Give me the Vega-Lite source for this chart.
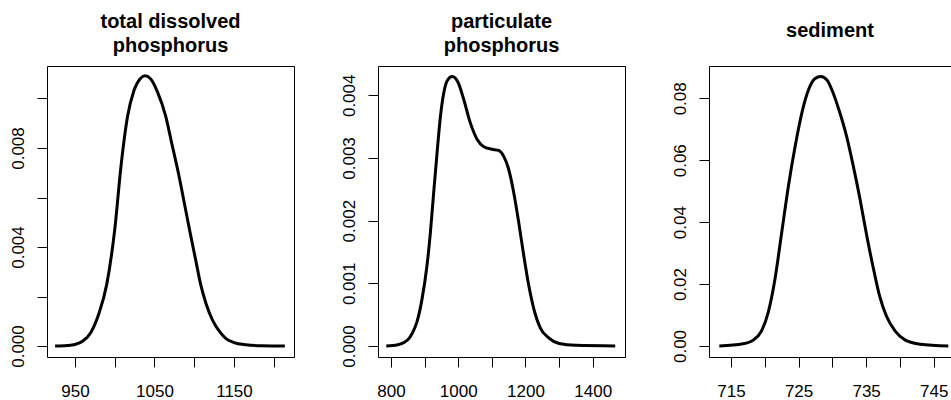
{
  "$schema": "https://vega.github.io/schema/vega-lite/v6.json",
  "padding": {"left": 8, "top": 11, "right": 0, "bottom": 0},
  "autosize": {"type": "pad"},
  "config": {
    "font": "Liberation Sans",
    "view": {"stroke": "black", "strokeWidth": 1},
    "axis": {"domain": false, "grid": false, "ticks": true, "tickColor": "black", "tickSize": 10, "tickWidth": 1, "labelFont": "Liberation Sans", "labelFontSize": 17, "labelColor": "black", "labelOverlap": false, "labelFlush": false, "labelBound": false},
    "axisX": {"labelBaseline": "alphabetic", "labelPadding": 29.7, "labelAngle": 0, "labelAlign": "center"},
    "axisY": {"labelAngle": 270, "labelAlign": "center", "labelBaseline": "alphabetic", "labelPadding": 14},
    "title": {"font": "Liberation Sans", "fontSize": 20, "fontWeight": "bold", "color": "black", "anchor": "middle", "frame": "group", "lineHeight": 24.3, "baseline": "bottom"},
    "line": {"color": "black", "strokeWidth": 3, "interpolate": "monotone"}
  },
  "datasets": {
    "tdp": [
      {"x": 925, "y": 0},
      {"x": 940, "y": 0.00002},
      {"x": 950, "y": 0.00006},
      {"x": 960, "y": 0.0002},
      {"x": 970, "y": 0.00055},
      {"x": 980, "y": 0.0013},
      {"x": 990, "y": 0.0025},
      {"x": 1000, "y": 0.0047},
      {"x": 1008, "y": 0.0073},
      {"x": 1016, "y": 0.00925},
      {"x": 1024, "y": 0.0103},
      {"x": 1032, "y": 0.0108},
      {"x": 1038, "y": 0.01092},
      {"x": 1045, "y": 0.0108},
      {"x": 1054, "y": 0.01025},
      {"x": 1064, "y": 0.0093},
      {"x": 1072, "y": 0.00815},
      {"x": 1080, "y": 0.007},
      {"x": 1088, "y": 0.0057},
      {"x": 1095, "y": 0.00455},
      {"x": 1102, "y": 0.00345},
      {"x": 1108, "y": 0.0025},
      {"x": 1115, "y": 0.0017},
      {"x": 1123, "y": 0.00105},
      {"x": 1132, "y": 0.00058},
      {"x": 1140, "y": 0.0003},
      {"x": 1150, "y": 0.00014},
      {"x": 1165, "y": 0.00005},
      {"x": 1185, "y": 0.00001},
      {"x": 1214, "y": 0}
    ],
    "pp": [
      {"x": 786, "y": 0},
      {"x": 820, "y": 0.00002},
      {"x": 840, "y": 0.00006},
      {"x": 855, "y": 0.00013},
      {"x": 865, "y": 0.00022},
      {"x": 877, "y": 0.00038},
      {"x": 892, "y": 0.00074},
      {"x": 907, "y": 0.00128},
      {"x": 917, "y": 0.0018},
      {"x": 927, "y": 0.00245},
      {"x": 937, "y": 0.00308},
      {"x": 947, "y": 0.00366},
      {"x": 957, "y": 0.00404},
      {"x": 968, "y": 0.00424},
      {"x": 982, "y": 0.0043},
      {"x": 1000, "y": 0.0042},
      {"x": 1016, "y": 0.00394},
      {"x": 1036, "y": 0.00356},
      {"x": 1056, "y": 0.0033},
      {"x": 1076, "y": 0.00318},
      {"x": 1100, "y": 0.00314},
      {"x": 1120, "y": 0.00312},
      {"x": 1135, "y": 0.00303},
      {"x": 1150, "y": 0.00282},
      {"x": 1165, "y": 0.00245},
      {"x": 1180, "y": 0.00197},
      {"x": 1195, "y": 0.00144},
      {"x": 1210, "y": 0.00096},
      {"x": 1225, "y": 0.00059},
      {"x": 1244, "y": 0.00029},
      {"x": 1269, "y": 0.00013},
      {"x": 1300, "y": 0.00004},
      {"x": 1350, "y": 0.00001},
      {"x": 1467, "y": 0}
    ],
    "sed": [
      {"x": 713.27, "y": 0},
      {"x": 716.8, "y": 0.0007},
      {"x": 718.3, "y": 0.0019},
      {"x": 719.5, "y": 0.0048},
      {"x": 720.5, "y": 0.0108},
      {"x": 721.5, "y": 0.0215},
      {"x": 722.5, "y": 0.0366},
      {"x": 723.5, "y": 0.0517},
      {"x": 724.5, "y": 0.0646},
      {"x": 725.5, "y": 0.0754},
      {"x": 726.5, "y": 0.0829},
      {"x": 727.4, "y": 0.0863},
      {"x": 728.3, "y": 0.087},
      {"x": 729.2, "y": 0.0859},
      {"x": 730.1, "y": 0.0818},
      {"x": 731.1, "y": 0.0754},
      {"x": 732.1, "y": 0.0678},
      {"x": 733.1, "y": 0.0581},
      {"x": 734.1, "y": 0.0474},
      {"x": 735.1, "y": 0.0355},
      {"x": 736.1, "y": 0.0248},
      {"x": 737.0, "y": 0.0161},
      {"x": 738.0, "y": 0.0097},
      {"x": 739.3, "y": 0.0048},
      {"x": 740.8, "y": 0.0019},
      {"x": 743.0, "y": 0.0006},
      {"x": 747.16, "y": 0}
    ]
  },
  "bounds": "flush",
  "spacing": 84,
  "hconcat": [
    {
      "width": 247,
      "height": 291,
      "title": {"text": ["total dissolved", "phosphorus"], "offset": 9.8},
      "data": {"name": "tdp"},
      "mark": {"type": "line"},
      "encoding": {
        "x": {"field": "x", "type": "quantitative", "title": null, "scale": {"domain": [914.8, 1225.5], "nice": false, "zero": false}, "axis": {"values": [950, 1000, 1050, 1100, 1150, 1200], "labelExpr": "(datum.value - 950) % 100 == 0 ? format(datum.value, 'd') : ''"}},
        "y": {"field": "y", "type": "quantitative", "title": null, "scale": {"domain": [-0.000444, 0.011313], "nice": false, "zero": false}, "axis": {"values": [0, 0.002, 0.004, 0.006, 0.008, 0.01], "labelExpr": "round(datum.value * 1000) % 4 == 0 ? format(datum.value, '.3f') : ''"}}
      }
    },
    {
      "width": 247,
      "height": 291,
      "title": {"text": ["particulate", "phosphorus"], "offset": 9.8},
      "data": {"name": "pp"},
      "mark": {"type": "line"},
      "encoding": {
        "x": {"field": "x", "type": "quantitative", "title": null, "scale": {"domain": [761.33, 1496.08], "nice": false, "zero": false}, "axis": {"values": [800, 900, 1000, 1100, 1200, 1300, 1400], "labelExpr": "datum.value % 200 == 0 ? format(datum.value, 'd') : ''"}},
        "y": {"field": "y", "type": "quantitative", "title": null, "scale": {"domain": [-0.0001755, 0.0044675], "nice": false, "zero": false}, "axis": {"values": [0, 0.001, 0.002, 0.003, 0.004], "format": ".3f"}}
      }
    },
    {
      "width": 242,
      "height": 291,
      "title": {"text": "sediment", "offset": 24.8},
      "data": {"name": "sed"},
      "view": {"stroke": null},
      "layer": [
        {
          "mark": {"type": "line"},
          "encoding": {
            "x": {"field": "x", "type": "quantitative", "title": null, "scale": {"domain": [711.744, 747.56], "nice": false, "zero": false}, "axis": {"values": [715, 720, 725, 730, 735, 740, 745], "labelExpr": "(datum.value - 715) % 10 == 0 ? format(datum.value, 'd') : ''", "domain": true, "domainColor": "black", "domainWidth": 1}},
            "y": {"field": "y", "type": "quantitative", "title": null, "scale": {"domain": [-0.003553, 0.09043], "nice": false, "zero": false}, "axis": {"values": [0, 0.02, 0.04, 0.06, 0.08], "format": ".2f", "domain": true, "domainColor": "black", "domainWidth": 1}}
          }
        },
        {
          "mark": {"type": "line", "strokeOpacity": 0},
          "encoding": {
            "x": {"field": "x", "type": "quantitative", "title": null, "axis": {"orient": "top", "labels": false, "ticks": false, "domain": true, "domainColor": "black", "domainWidth": 1}},
            "y": {"field": "y", "type": "quantitative", "title": null}
          }
        }
      ],
      "resolve": {"axis": {"x": "independent"}}
    }
  ]
}
